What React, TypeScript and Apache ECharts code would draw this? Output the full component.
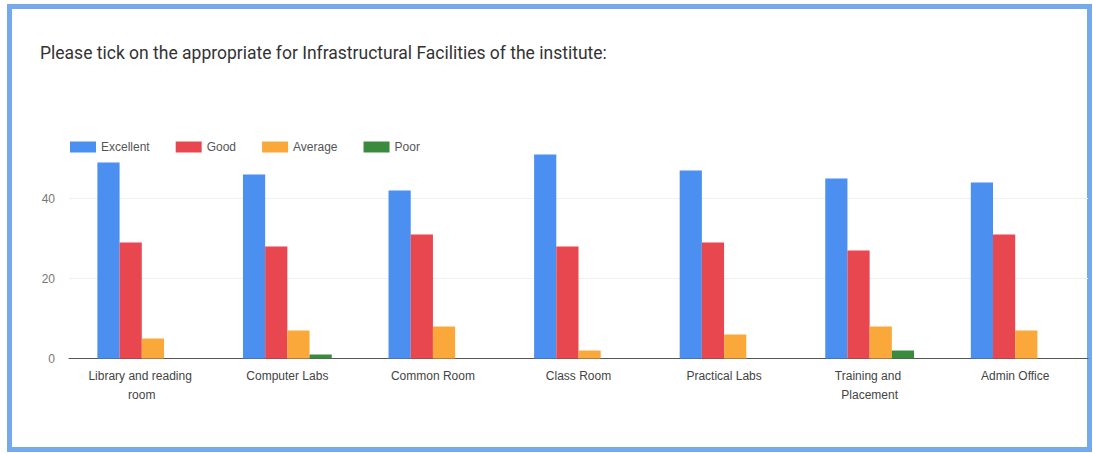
import React, { useEffect, useRef } from "react";
import * as echarts from "echarts";

const categories = [
  "Library and reading room",
  "Computer Labs",
  "Common Room",
  "Class Room",
  "Practical Labs",
  "Training and Placement",
  "Admin Office",
];
const excellent = [49, 46, 42, 51, 47, 45, 44];
const good = [29, 28, 31, 28, 29, 27, 31];
const average = [5, 7, 8, 2, 6, 8, 7];
const poor = [0, 1, 0, 0, 0, 2, 0];
const seriesNames = ["Excellent", "Good", "Average", "Poor"];
const colors = ["#4b8ff0", "#e8474f", "#fba83a", "#3b8a3e"];
const titleText =
  "Please tick on the appropriate for Infrastructural Facilities of the institute:";

export default function App() {
  const ref = useRef<HTMLDivElement>(null);
  useEffect(() => {
    if (!ref.current) return;
    const chart = echarts.init(ref.current, null, { renderer: "svg" });
    const data = [excellent, good, average, poor];
    chart.setOption({
      animation: false,
      backgroundColor: "#ffffff",
      title: {
        text: titleText,
        left: 35,
        top: 39,
        textStyle: {
          fontFamily: "Roboto",
          fontSize: 17.5,
          fontWeight: "normal",
          color: "#333333",
        },
      },
      legend: {
        left: 70,
        top: 141,
        padding: 0,
        itemWidth: 26,
        itemHeight: 11,
        itemGap: 26,
        icon: "rect",
        textStyle: {
          fontFamily: "Liberation Sans",
          fontSize: 12,
          color: "#555555",
        },
        data: seriesNames,
      },
      graphic: [
        {
          type: "rect",
          shape: { x: 9.5, y: 6.5, width: 1080, height: 443 },
          style: { fill: "none", stroke: "#74a9ec", lineWidth: 5 },
          silent: true,
        },
      ],
      grid: { left: 69, right: 5, top: 118.5, bottom: 94.5 },
      xAxis: {
        type: "category",
        data: categories,
        axisLine: { show: true, lineStyle: { color: "#555555", width: 1 } },
        axisTick: { show: false },
        axisLabel: {
          fontFamily: "Liberation Sans",
          fontSize: 12,
          color: "#444444",
          margin: 8,
          width: 115,
          overflow: "break",
          lineHeight: 19,
          interval: 0,
        },
      },
      yAxis: {
        type: "value",
        min: 0,
        max: 60,
        interval: 20,
        axisLine: { show: false },
        axisTick: { show: false },
        splitLine: {
          lineStyle: {
            color: ["#f0f0f0", "#f0f0f0", "#f0f0f0", "rgba(0,0,0,0)"],
          },
        },
        axisLabel: {
          fontFamily: "Liberation Sans",
          fontSize: 12,
          color: "#777777",
          margin: 14,
          showMaxLabel: false,
        },
      },
      series: seriesNames.map((name, i) => ({
        name,
        type: "bar",
        data: data[i],
        barGap: "0%",
        barCategoryGap: "39%",
        itemStyle: { color: colors[i] },
      })),
    });
    return () => chart.dispose();
  }, []);
  return (
    <div
      ref={ref}
      style={{ position: "fixed", left: 0, top: 0, width: 1093, height: 453 }}
    />
  );
}
